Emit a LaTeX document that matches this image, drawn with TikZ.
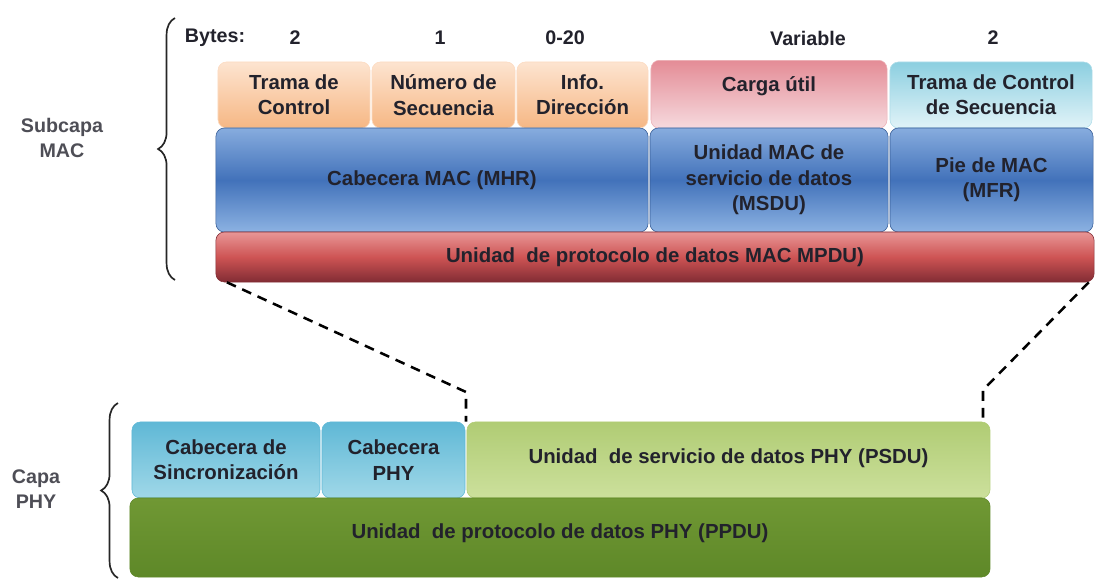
\documentclass[tikz,border=0pt]{standalone}
\usepackage{fontspec}
\setmainfont{Liberation Sans}
\usetikzlibrary{decorations.pathreplacing}

\definecolor{txtdark}{RGB}{34,34,44}
\definecolor{orangetop}{RGB}{253,228,208}
\definecolor{orangebot}{RGB}{246,183,132}
\definecolor{pinktop}{RGB}{228,140,150}
\definecolor{pinkbot}{RGB}{246,218,222}
\definecolor{skytop}{RGB}{140,207,224}
\definecolor{skybot}{RGB}{225,243,248}
\definecolor{bluetop}{RGB}{135,172,222}
\definecolor{bluemid}{RGB}{66,114,186}
\definecolor{bluebot}{RGB}{140,178,226}
\definecolor{redtop}{RGB}{232,150,150}
\definecolor{redmid}{RGB}{206,84,84}
\definecolor{redbot}{RGB}{130,44,52}
\definecolor{cyantop}{RGB}{95,184,214}
\definecolor{cyanbot}{RGB}{160,216,232}
\definecolor{limetop}{RGB}{176,204,116}
\definecolor{limebot}{RGB}{204,224,156}
\definecolor{olivetop}{RGB}{112,152,52}
\definecolor{olivebot}{RGB}{94,136,40}

\tikzset{
  field/.style={rounded corners=6pt, align=center, inner sep=1pt,
    font=\fontsize{14.5}{18}\selectfont\bfseries, text=txtdark},
  hdrbox/.style={field, top color=orangetop, bottom color=orangebot, draw=orangetop!80!orangebot},
  paybox/.style={field, top color=pinktop, bottom color=pinkbot, draw=pinktop!70!white},
  fcsbox/.style={field, top color=skytop, bottom color=skybot, draw=skytop!70!white},
  macbox/.style={field, top color=bluetop, bottom color=bluebot, middle color=bluemid, draw=bluemid!80!black},
  mpdubox/.style={field, top color=redtop, bottom color=redbot, middle color=redmid, draw=redbot},
  syncbox/.style={field, top color=cyantop, bottom color=cyanbot, draw=cyantop},
  psdubox/.style={field, top color=limetop, bottom color=limebot, draw=limetop},
  ppdubox/.style={field, top color=olivetop, bottom color=olivebot, draw=olivebot},
  bytelbl/.style={font=\fontsize{14}{16}\selectfont\bfseries, text=txtdark},
  layerlbl/.style={align=center, font=\fontsize{14}{18}\selectfont\bfseries, text=txtdark!80},
  layerbrace/.style={decorate, decoration={brace, amplitude=12pt}, line width=1.2pt, black!85},
  zoomline/.style={line width=1.8pt, dash pattern=on 7pt off 5pt}
}

\begin{document}
\begin{tikzpicture}[x=0.025cm, y=-0.025cm]
  \useasboundingbox (0,0) rectangle (1106,579);

  % byte counts
  \node[bytelbl] (bytes) at (215,38) {Bytes:};
  \node[bytelbl] (b1) at (295,38) {2};
  \node[bytelbl] (b2) at (440,38) {1};
  \node[bytelbl] (b3) at (565,38) {0-20};
  \node[bytelbl] (b4) at (808,38) {Variable};
  \node[bytelbl] (b5) at (993,38) {2};

  % MAC frame fields
  \node[hdrbox, minimum width=3.8cm, minimum height=1.65cm] (tc) at (294,95) {Trama de\\Control};
  \node[hdrbox, minimum width=3.575cm, minimum height=1.65cm] (ns) at (443.5,95) {Número de\\Secuencia};
  \node[hdrbox, minimum width=3.275cm, minimum height=1.65cm] (id) at (582.5,95) {Info.\\Dirección};
  \node[paybox, minimum width=5.9cm, minimum height=1.7cm, anchor=north] (cu) at (769,60) {\raisebox{5mm}{Carga útil}};
  \node[fcsbox, minimum width=5.05cm, minimum height=1.65cm] (tcs) at (991,95) {Trama de Control\\de Secuencia};

  \node[macbox, minimum width=10.8cm, minimum height=2.6cm] (mhr) at (432,180) {Cabecera MAC (MHR)};
  \node[macbox, minimum width=5.95cm, minimum height=2.6cm] (msdu) at (769,180) {Unidad MAC de\\servicio de datos\\(MSDU)};
  \node[macbox, minimum width=5.075cm, minimum height=2.6cm] (mfr) at (991.5,180) {Pie de MAC\\(MFR)};

  \node[mpdubox, minimum width=21.95cm, minimum height=1.25cm] (mpdu) at (655,257) {Unidad\ \ de protocolo de datos MAC MPDU)};

  % PHY frame fields
  \node[syncbox, minimum width=4.7cm, minimum height=1.9cm] (sync) at (226,460) {Cabecera de\\Sincronización};
  \node[syncbox, minimum width=3.575cm, minimum height=1.9cm] (phyh) at (393.5,460) {Cabecera\\PHY};
  \node[psdubox, minimum width=13.075cm, minimum height=1.9cm] (psdu) at (728.5,460) {\raisebox{2mm}{Unidad\ \ de servicio de datos PHY (PSDU)}};
  \node[ppdubox, minimum width=21.5cm, minimum height=1.975cm] (ppdu) at (560,537.5) {\raisebox{3mm}{Unidad\ \ de protocolo de datos PHY (PPDU)}};

  % layer labels and braces
  \node[layerlbl] (maclbl) at (62,138) {Subcapa\\MAC};
  \node[layerlbl] (phylbl) at (36,489) {Capa\\PHY};
  \draw[layerbrace] (175,280) -- (175,18);
  \draw[layerbrace] (118,578) -- (118,403);

  % zoom lines from MPDU to PSDU
  \coordinate (bendl) at (466,392);
  \coordinate (bendr) at (983,390);
  \draw[zoomline] ([xshift=8pt]mpdu.south west) -- (bendl) -- (bendl |- psdu.north);
  \draw[zoomline] ([xshift=-4pt]mpdu.south east) -- (bendr) -- (bendr |- psdu.north);
\end{tikzpicture}
\end{document}
